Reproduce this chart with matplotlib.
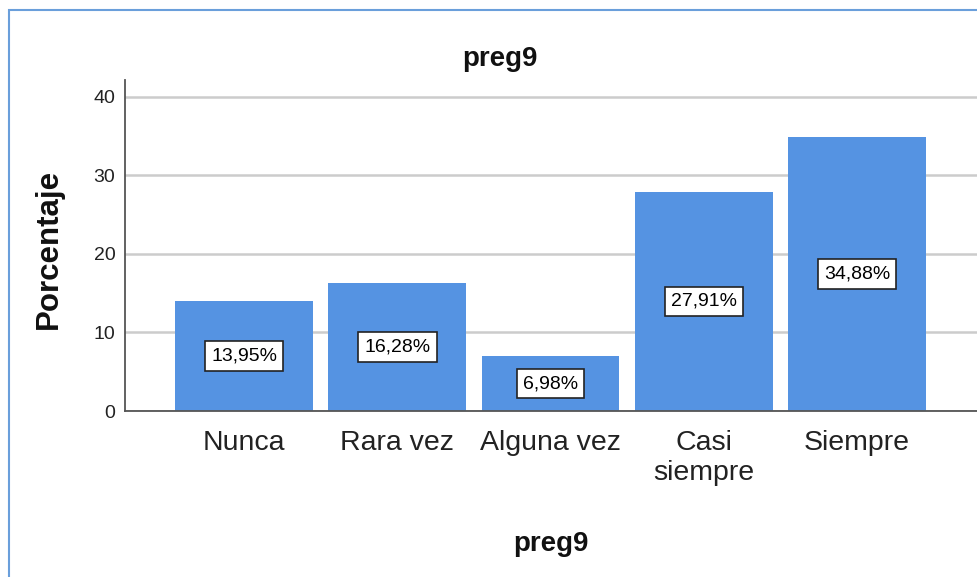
import matplotlib
matplotlib.use("Agg")
from matplotlib import pyplot as plt
from matplotlib.patches import Rectangle

categories = ["Nunca", "Rara vez", "Alguna vez", "Casi\nsiempre", "Siempre"]
percents = [13.95, 16.28, 6.98, 27.91, 34.88]
value_labels = ["13,95%", "16,28%", "6,98%", "27,91%", "34,88%"]
yticks = [0, 10, 20, 30, 40]

plt.rcParams['font.family'] = ['Liberation Sans', 'DejaVu Sans']

W, H = 977, 577
fig = plt.figure(figsize=(W / 100, H / 100), dpi=100)
fig.patch.set_facecolor('white')

# light blue frame around the chart (right/bottom run off the picture)
fig.patches.append(Rectangle((9 / W, -0.1), 1.2, 1.1 - 10 / H,
                             transform=fig.transFigure, fill=False,
                             edgecolor='#6a9fdb', linewidth=1.5))

ax = fig.add_axes([125 / W, 1 - 411 / H, (W - 125) / W, (411 - 80) / H])
x = range(len(categories))
ax.bar(x, percents, width=0.9, color='#5593e2', zorder=2)

for xi, v, lab in zip(x, percents, value_labels):
    ax.text(xi, v / 2, lab, ha='center', va='center', fontsize=14,
            zorder=3,
            bbox=dict(boxstyle='square,pad=0.32', facecolor='white',
                      edgecolor='#222222', linewidth=1.2))

ax.set_xlim(-0.777, 4.783)
ax.set_ylim(0, 42.1)
ax.set_yticks(yticks)
ax.set_xticks(list(x))
ax.set_xticklabels(categories, fontsize=20.5, color='#222222')
ax.tick_params(axis='x', length=0, pad=14)
ax.tick_params(axis='y', length=0, pad=7, labelsize=14, labelcolor='#222222')

ax.grid(axis='y', color='#cccccc', linewidth=1.8, zorder=0)
ax.set_axisbelow(True)
for s in ['top', 'right']:
    ax.spines[s].set_visible(False)
ax.spines['left'].set_color('#555555')
ax.spines['bottom'].set_color('#555555')
ax.spines['left'].set_linewidth(1.3)
ax.spines['bottom'].set_linewidth(1.3)

ax.set_ylabel('Porcentaje', fontsize=22.5, fontweight='bold', color='#111111')
ax.yaxis.set_label_coords(-0.0716, 0.49)

ax.set_xlabel('preg9', fontsize=20, fontweight='bold', color='#111111')
ax.xaxis.label.set_va('baseline')
ax.xaxis.set_label_coords(0.5, (411 - 551) / (411 - 80))

fig.text(500 / W, 1 - 66 / H, 'preg9', ha='center', va='baseline',
         fontsize=20, fontweight='bold', color='#111111')

fig.savefig('out.png', dpi=100, facecolor='white')
